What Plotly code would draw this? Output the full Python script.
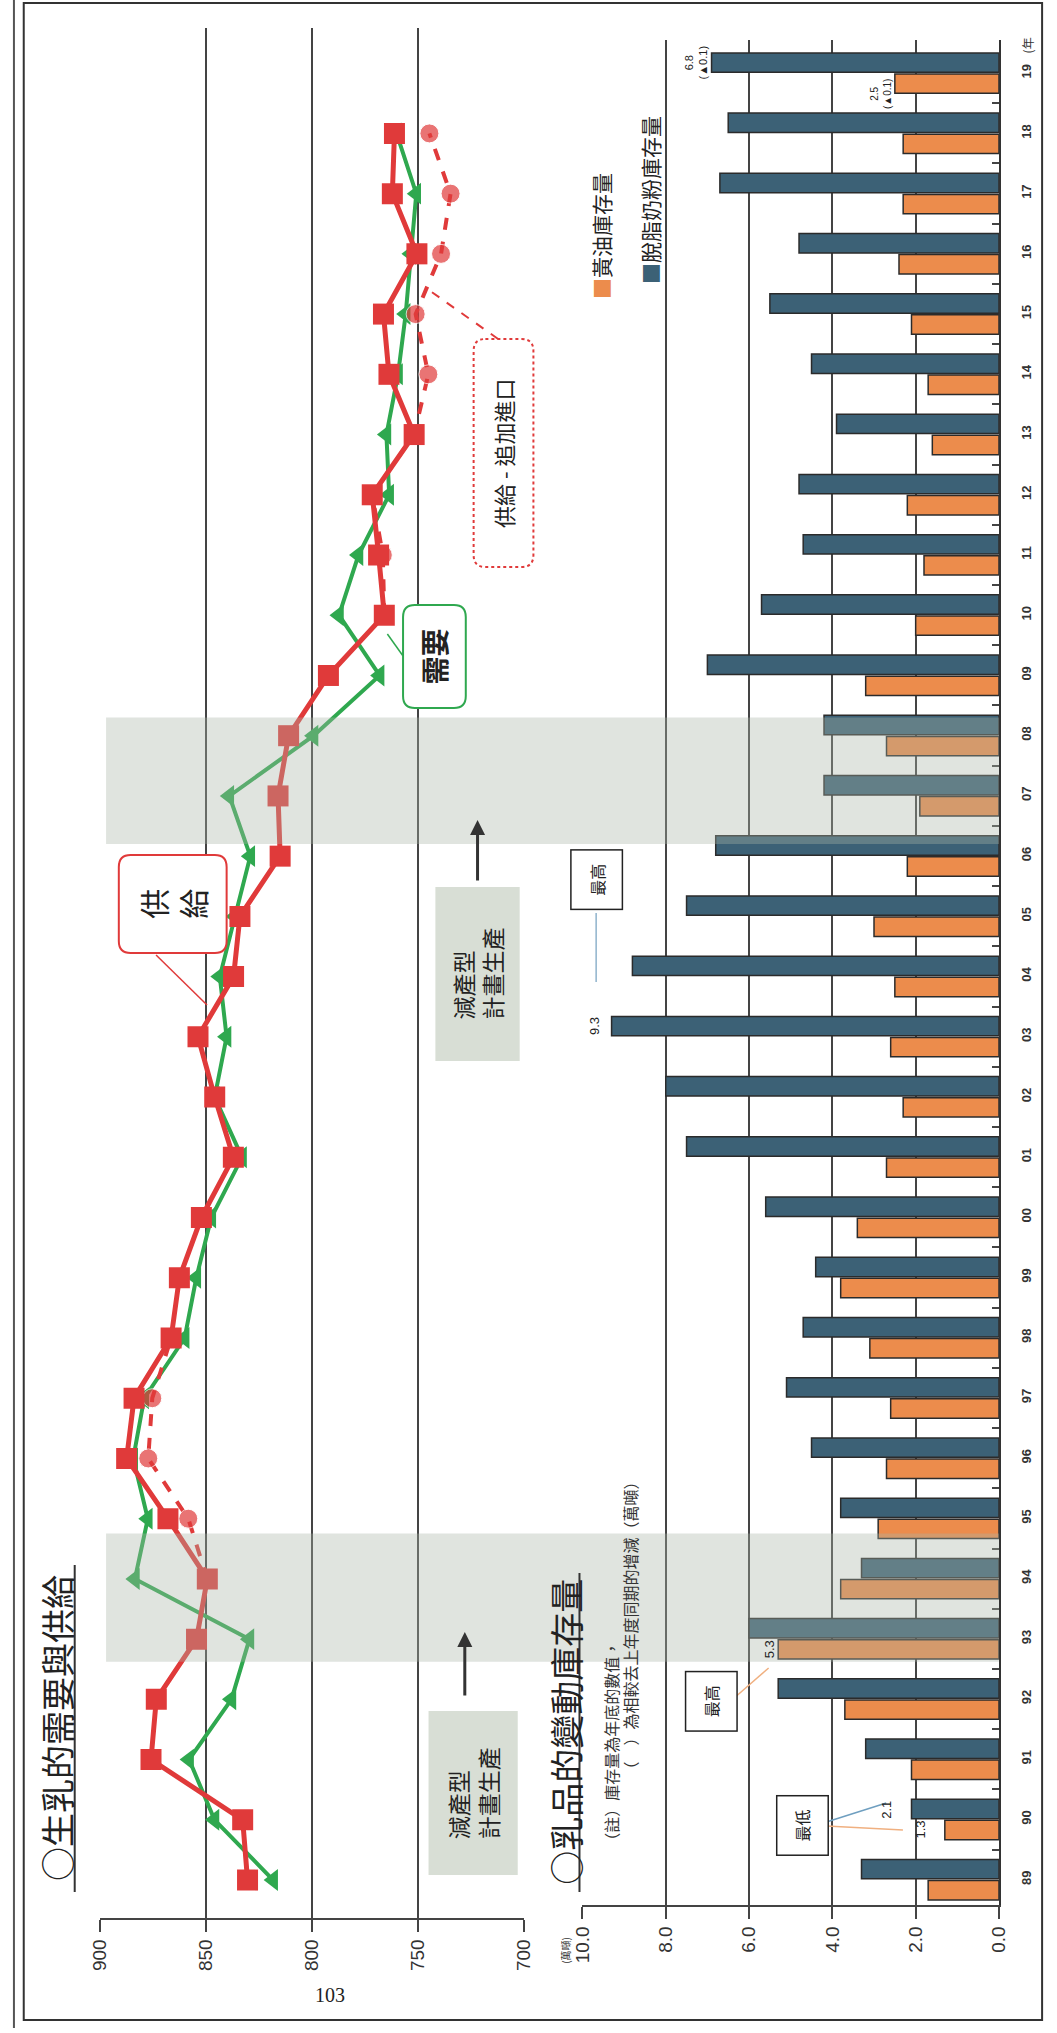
import plotly.graph_objects as go

W, H = 1057, 2033

# ---------------- data ----------------
years = ["89", "90", "91", "92", "93", "94", "95", "96", "97", "98", "99", "00", "01", "02", "03",
         "04", "05", "06", "07", "08", "09", "10", "11", "12", "13", "14", "15", "16", "17", "18", "19"]

# 生乳 (萬噸), 89 .. 18
supply = [830.4, 832.7, 876.0, 873.5, 854.5, 849.4, 868.0, 887.5, 884.0, 866.5, 862.6, 852.2, 837.1,
          845.9, 853.8, 837.0, 834.0, 815.0, 816.0, 811.0, 792.2, 765.8, 768.5, 771.5, 751.7, 763.6,
          766.2, 750.4, 762.0, 761.0]
demand = [818.3, 846.0, 858.0, 838.0, 829.5, 883.6, 877.5, 884.4, 879.2, 860.1, 854.6, 847.5, 833.0,
          845.9, 840.3, 843.5, 836.3, 829.1, 839.0, 799.2, 768.0, 787.2, 778.0, 763.5, 764.8, 759.3,
          755.7, 753.2, 750.7, 760.0]
supply_ex_import = [None, None, None, None, None, 849.4, 858.4, 877.3, 875.4, 866.5,
                    None, None, None, None, None, None, None, None, None, None, None,
                    765.8, 766.5, 771.5, 751.7, 745.0, 751.0, 739.0, 734.5, 744.5]
ex_import_marked = [False] * 6 + [True, True, True] + [False] * 13 + [True] + [False, False] + [True] * 5

# 乳品庫存 (萬噸), 89 .. 19
butter = [1.7, 1.3, 2.1, 3.7, 5.3, 3.8, 2.9, 2.7, 2.6, 3.1, 3.8, 3.4, 2.7, 2.3, 2.6, 2.5, 3.0, 2.2,
          1.9, 2.7, 3.2, 2.0, 1.8, 2.2, 1.6, 1.7, 2.1, 2.4, 2.3, 2.3, 2.5]
smp = [3.3, 2.1, 3.2, 5.3, 6.0, 3.3, 3.8, 4.5, 5.1, 4.7, 4.4, 5.6, 7.5, 8.0, 9.3, 8.8, 7.5, 6.8,
       4.2, 4.2, 7.0, 5.7, 4.7, 4.8, 3.9, 4.5, 5.5, 4.8, 6.7, 6.5, 6.9]

line_ticks = [900, 850, 800, 750, 700]
bar_ticks = [0, 2, 4, 6, 8, 10]
bands = [(3.62, 5.75), (17.2, 19.3)]

# ---------------- helpers ----------------
def px(x):
    return x / W


def py(y):
    return 1 - y / H


idx_all = list(range(len(years)))
idx_line = list(range(len(supply)))

RED = "#e03a3a"
GREEN = "#2fa84f"
BLUE = "#3c6176"
ORANGE = "#ec8c4c"
CJK = "Noto Sans CJK TC"

fig = go.Figure()

# ---------------- line chart ----------------
fig.add_trace(go.Scatter(
    x=demand, y=idx_line, mode="lines+markers", xaxis="x", yaxis="y",
    line=dict(color=GREEN, width=4),
    marker=dict(symbol="triangle-left", size=19, color=GREEN),
    name="需要", showlegend=False))
fig.add_trace(go.Scatter(
    x=supply_ex_import, y=idx_line, mode="lines+markers", xaxis="x", yaxis="y",
    line=dict(color=RED, width=4, dash="dash"), connectgaps=False,
    marker=dict(symbol="circle", color=RED,
                size=[19 if m else 0 for m in ex_import_marked]),
    name="供給 - 追加進口", showlegend=False))
fig.add_trace(go.Scatter(
    x=supply, y=idx_line, mode="lines+markers", xaxis="x", yaxis="y",
    line=dict(color=RED, width=5),
    marker=dict(symbol="square", size=21, color=RED),
    name="供給", showlegend=False))

# ---------------- bar chart ----------------
fig.add_trace(go.Bar(
    x=butter, y=idx_all, orientation="h", xaxis="x2", yaxis="y2",
    marker=dict(color=ORANGE, line=dict(color="#2b2b2b", width=1.5)),
    name="黃油庫存量", showlegend=False))
fig.add_trace(go.Bar(
    x=smp, y=idx_all, orientation="h", xaxis="x2", yaxis="y2",
    marker=dict(color=BLUE, line=dict(color="#2b2b2b", width=1.5)),
    name="脫脂奶粉庫存量", showlegend=False))

tickfont = dict(family="Liberation Sans, Arial", size=19, color="#333")

fig.update_layout(
    width=W, height=H, margin=dict(l=0, r=0, t=0, b=0),
    paper_bgcolor="white", plot_bgcolor="rgba(0,0,0,0)",
    barmode="group", bargap=0.30, bargroupgap=0.08,
    font=dict(family=CJK, color="#222"),
    xaxis=dict(domain=[px(91), px(523)], range=[900, 700], anchor="y",
               tickvals=line_ticks, ticktext=[str(v) for v in line_ticks],
               tickangle=-90, tickfont=tickfont, ticks="outside", ticklen=12,
               tickcolor="#444", tickwidth=1.5,
               showgrid=True, gridcolor="#444", gridwidth=1.5,
               showline=True, linecolor="#444", linewidth=1.5, zeroline=False),
    yaxis=dict(domain=[py(1918), py(28)], range=[-0.63, 30.75], anchor="x",
               showgrid=False, showticklabels=False, showline=False, zeroline=False,
               ticks=""),
    xaxis2=dict(domain=[px(583), px(1008)], range=[10, 0], anchor="y2",
                tickvals=bar_ticks, ticktext=["%.1f" % v for v in bar_ticks],
                tickangle=-90, tickfont=tickfont, ticks="outside", ticklen=12,
                tickcolor="#444", tickwidth=1.5,
                showgrid=True, gridcolor="#444", gridwidth=1.5,
                showline=True, linecolor="#444", linewidth=1.5, zeroline=False),
    yaxis2=dict(domain=[py(1905), py(40)], range=[-0.42, 30.55], anchor="x2",
                side="right", tickvals=idx_all, ticktext=years, tickangle=-90,
                tickfont=dict(family="Liberation Sans, Arial", size=13, color="#333",
                              weight="bold"),
                ticks="", ticklabelstandoff=14,
                minor=dict(tickvals=[i + 0.5 for i in range(len(years) - 1)],
                           ticks="inside", ticklen=7, tickcolor="#444", tickwidth=1.5,
                           showgrid=False),
                showgrid=False, showline=True, linecolor="#333", linewidth=2,
                zeroline=False),
)

shapes = []
annotations = []

# shaded periods (減產型計畫生產)
for (b0, b1) in bands:
    shapes.append(dict(type="rect", xref="paper", yref="y2", x0=px(97), x1=px(1008),
                       y0=b0, y1=b1, fillcolor="rgba(170,180,165,0.36)",
                       line=dict(width=0), layer="above"))

# page frame
shapes.append(dict(type="rect", xref="paper", yref="paper", x0=px(13), x1=px(1052),
                   y0=py(2020), y1=py(3), line=dict(color="#333", width=2)))
shapes.append(dict(type="line", xref="paper", yref="paper", x0=px(3), x1=px(3),
                   y0=py(2028), y1=py(0), line=dict(color="#555", width=2)))


def rrect(x0, y0, x1, y1, r):
    pts = [
        f"M {px(x0 + r)},{py(y0)}", f"L {px(x1 - r)},{py(y0)}",
        f"Q {px(x1)},{py(y0)} {px(x1)},{py(y0 + r)}", f"L {px(x1)},{py(y1 - r)}",
        f"Q {px(x1)},{py(y1)} {px(x1 - r)},{py(y1)}", f"L {px(x0 + r)},{py(y1)}",
        f"Q {px(x0)},{py(y1)} {px(x0)},{py(y1 - r)}", f"L {px(x0)},{py(y0 + r)}",
        f"Q {px(x0)},{py(y0)} {px(x0 + r)},{py(y0)}", "Z"]
    return " ".join(pts)


def line(x0, y0, x1, y1, color, width=1.5, dash="solid"):
    shapes.append(dict(type="line", xref="paper", yref="paper", x0=px(x0), y0=py(y0),
                       x1=px(x1), y1=py(y1), line=dict(color=color, width=width, dash=dash)))


def text(x, y, t, size, color="#222", family=CJK, angle=-90, **kw):
    d = dict(xref="paper", yref="paper", x=px(x), y=py(y), text=t, showarrow=False,
             textangle=angle, font=dict(family=family, size=size, color=color),
             xanchor="center", yanchor="middle")
    d.update(kw)
    annotations.append(d)


# 減產型計畫生產 boxes
for (x0, y0, x1, y1) in [(426, 1711, 517, 1875), (433, 887, 519, 1061)]:
    shapes.append(dict(type="rect", xref="paper", yref="paper", x0=px(x0), x1=px(x1),
                       y0=py(y1), y1=py(y0), fillcolor="#d8ded5", line=dict(width=0)))
    text((x0 + x1) / 2, (y0 + y1) / 2, "減產型<br>計畫生產", 23, color="#222", align="left")

# arrows
for (x, yh, yt) in [(463, 1632, 1697), (476, 820, 882)]:
    annotations.append(dict(xref="paper", yref="paper", x=px(x), y=py(yh), text="",
                            showarrow=True, ax=0, ay=yt - yh, arrowhead=2, arrowsize=1,
                            arrowwidth=3, arrowcolor="#333"))

# 供給 box
shapes.append(dict(type="path", xref="paper", yref="paper", path=rrect(110, 855, 220, 953, 12),
                   fillcolor="white", line=dict(color=RED, width=2)))
line(148, 955, 200, 1005, RED, 1.5)
text(165, 904, "供<br>給", 30, color="#222")

# 需要 box
shapes.append(dict(type="path", xref="paper", yref="paper", path=rrect(400, 605, 464, 708, 12),
                   fillcolor="white", line=dict(color=GREEN, width=2)))
line(400, 656, 384, 634, GREEN, 1.5)
text(432, 656, "<b>需要</b>", 28, color="#222")

# 供給 - 追加進口 box
shapes.append(dict(type="path", xref="paper", yref="paper", path=rrect(472, 339, 533, 567, 12),
                   fillcolor="white", line=dict(color=RED, width=2, dash="dot")))
line(497, 339, 422, 287, RED, 2, "dash")
text(502, 453, "供給 - 追加進口", 22, color="#222")

# titles
text(46, 1728, "○生乳的需要與供給", 34, color="#222")
line(65, 1565, 65, 1892, "#333", 2)
text(565, 1732, "○乳品的變動庫存量", 34, color="#222")
line(580, 1573, 580, 1892, "#333", 2)

# notes
text(612, 1745, "（註）庫存量為年底的數值，", 16, color="#333")
text(632, 1625, "（　）為相較去上年度同期的增減（萬噸）", 16, color="#333")

# legend
text(602, 236, "<span style='color:%s'>■</span>黃油庫存量" % ORANGE, 21, color="#222")
text(652, 200, "<span style='color:%s'>■</span>脫脂奶粉庫存量" % BLUE, 21, color="#222")

# unit & year labels
text(565, 1950, "(萬噸)", 10, color="#333")
text(1038, 45, "(年", 12, color="#333")
text(325, 1995, "103", 20, color="#222", family="Liberation Serif, DejaVu Serif", angle=0)


# highlight boxes
def hbox(x, y, t):
    annotations.append(dict(xref="paper", yref="paper", x=px(x), y=py(y), text=t,
                            showarrow=False, textangle=-90, bgcolor="white",
                            bordercolor="#222", borderwidth=1.5, borderpad=13,
                            font=dict(family=CJK, size=16, color="#222"),
                            xanchor="center", yanchor="middle"))


hbox(597, 880, "最高")
line(597, 913, 597, 982, "#8fb3cc", 1.5)
hbox(714, 1701, "最高")
line(739, 1697, 773, 1668, "#f0b080", 1.5)
hbox(807, 1825, "最低")
line(832, 1822, 893, 1803, "#6f9fc0", 1.5)
line(832, 1826, 910, 1830, "#f0b080", 1.5)


# value labels anchored to bar ends
def vlabel(val, yidx, t, shift, size=13):
    annotations.append(dict(xref="x2", yref="y2", x=val, y=yidx, text=t, showarrow=False,
                            textangle=-90, xshift=shift, xanchor="center", yanchor="middle",
                            font=dict(family="Liberation Sans, Arial", size=size, color="#222")))


vlabel(smp[14], 14 + 0.17, "9.3", -17)
vlabel(butter[4], 4 - 0.17, "5.3", -9)
vlabel(smp[1], 1 + 0.17, "2.1", -25)
vlabel(butter[1], 1 - 0.17, "1.3", -24)
vlabel(smp[30], 30 + 0.17, "6.8<br>(▲0.1)", -16, 11)
vlabel(butter[30], 30 - 0.35, "2.5<br>(▲0.1)", -14, 10)

fig.update_layout(shapes=shapes, annotations=annotations)

fig.write_html("out.html", include_plotlyjs=True, full_html=True,
               config={"displayModeBar": False},
               post_script="document.body.style.margin='0';")
